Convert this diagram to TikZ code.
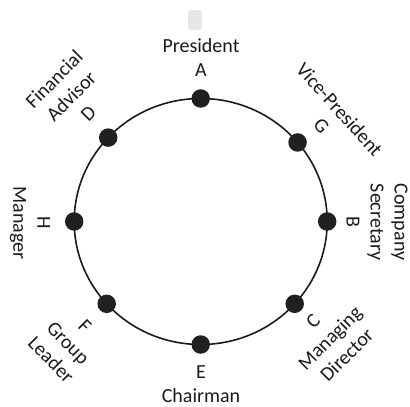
\documentclass[tikz,border=0pt]{standalone}
\usepackage{fontspec}
\setmainfont{Carlito}
\definecolor{ink}{RGB}{26,26,26}
\definecolor{seatfill}{RGB}{32,32,32}
\definecolor{ghost}{RGB}{230,230,230}
\tikzset{
    ring/.style={
        draw=ink,
        line width=1.6pt
    },
    seat/.style={
        circle,
        fill=seatfill,
        minimum size=18.5pt,
        inner sep=0pt
    },
    role/.style={
        font=\fontsize{20}{24}\selectfont,
        align=center,
        text=ink,
        inner sep=0pt
    },
    ghostbox/.style={
        fill=ghost,
        rounded corners=3pt,
        minimum width=14pt,
        minimum height=20pt,
        inner sep=0pt
    }
}

\begin{document}
\begin{tikzpicture}[x=1pt, y=1pt]
\useasboundingbox (0,-407) rectangle (410,0);

\node[ghostbox] (tab) at (195,-20) {};

\begin{scope}[shift={(200.7,-221.5)}]
    \def\rx{126.5}
    \def\ry{123}

    % Ring
    \draw[ring] (0,0) ellipse [x radius=\rx, y radius=\ry];

    % Seats on the ring
    \foreach \name/\ang in {A/90,G/40,B/0,C/-42,E/270,F/222,H/180,D/137} {
        \node[seat] (\name) at ({\rx*cos(\ang)}, {\ry*sin(\ang)}) {};
    }

    % Roles
    \foreach \name/\pos/\rot/\txt in {
        A/{(0.3,164)}/0/{President\\A},
        G/{(130,104)}/-48/{Vice-President\\G},
        B/{(176.3,-0.5)}/-90/{Company\\Secretary\\B},
        C/{(129.3,-116.5)}/45/{C\\Managing\\Director},
        E/{(0.3,-162.5)}/0/{E\\Chairman},
        F/{(-132.7,-121.5)}/-45/{F\\Group\\Leader},
        H/{(-170.7,-1.5)}/-90/{H\\Manager},
        D/{(-129.7,125.5)}/45/{Financial\\Advisor\\D}} {
        \node[role, rotate=\rot] (lbl\name) at \pos {\txt};
    }
\end{scope}
\end{tikzpicture}
\end{document}
